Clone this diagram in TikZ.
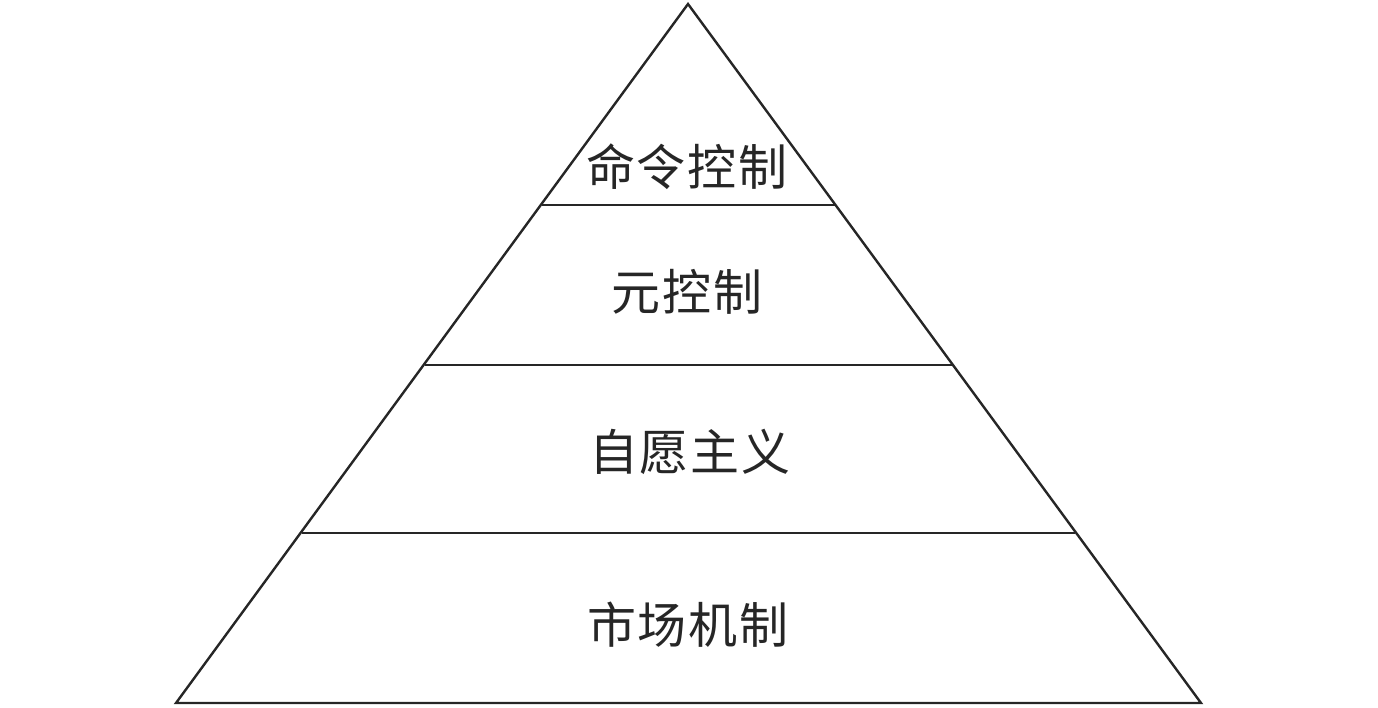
\documentclass[tikz,border=0pt]{standalone}
\usepackage{fontspec}
\newfontfamily\cjk[LetterSpace=4]{Noto Sans CJK SC}
\begin{document}
\begin{tikzpicture}[x=1pt,y=-1pt,
  edge/.style={line width=2.4pt,color=black!85,line join=miter},
  label/.style={font=\cjk\fontsize{49}{54}\selectfont,inner sep=0pt,color=black!85}]
\useasboundingbox (0,0) rectangle (1378,707);
\coordinate (apex) at (688,4);
\coordinate (bl) at (176,703);
\coordinate (br) at (1201,703);
\draw[edge] (apex) -- (bl) -- (br) -- cycle;
\coordinate (l1) at (541.5,205); \coordinate (r1) at (834.5,205);
\coordinate (l2) at (424.5,365); \coordinate (r2) at (951.5,365);
\coordinate (l3) at (301.5,533); \coordinate (r3) at (1074.5,533);
\draw[edge] (l1) -- (r1);
\draw[edge] (l2) -- (r2);
\draw[edge] (l3) -- (r3);
\node[label] (t1) at (687,167) {命令控制};
\node[label] (t2) at (687,292) {元控制};
\node[label] (t3) at (690,452) {自愿主义};
\node[label] (t4) at (688,625) {市场机制};
\end{tikzpicture}
\end{document}
